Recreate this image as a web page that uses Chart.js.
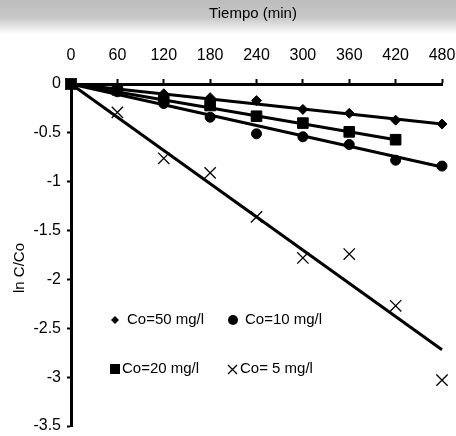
<!DOCTYPE html>
<html>
<head>
<meta charset="utf-8">
<script src="https://cdn.jsdelivr.net/npm/chart.js@4.4.1/dist/chart.umd.min.js"></script>
<style>
  html, body { margin: 0; padding: 0; }
  body { width: 456px; height: 436px; background: linear-gradient(to bottom, #bcbcbc 0px, #c8c8c8 18px, #e6e6e6 27px, #ffffff 34px); }
  #wrap { position: relative; width: 456px; height: 436px; }
</style>
</head>
<body>
<div id="wrap"><canvas id="c" width="456" height="436"></canvas></div>
<script>
// ---- data ----
const times = [0, 60, 120, 180, 240, 300, 360, 420, 480];
const xTicks = [0, 60, 120, 180, 240, 300, 360, 420, 480];
const yTicks = [0, -0.5, -1, -1.5, -2, -2.5, -3, -3.5];

const co50 = [0, -0.05, -0.10, -0.14, -0.17, -0.26, -0.30, -0.37, -0.41];
const co20 = [0, -0.06, -0.15, -0.22, -0.33, -0.40, -0.49, -0.57];
const co10 = [0, -0.08, -0.20, -0.34, -0.51, -0.54, -0.62, -0.78, -0.84];
const co5  = [0, -0.29, -0.76, -0.91, -1.36, -1.78, -1.74, -2.27, -3.03];

// fitted straight lines (start / end)
const fitTimes50 = [0, 480], fit50 = [0, -0.41];
const fitTimes20 = [0, 420], fit20 = [0, -0.57];
const fitTimes10 = [0, 480], fit10 = [0, -0.85];
const fitTimes5  = [0, 480], fit5  = [0, -2.72];

const labels = ['Co=50 mg/l', 'Co=10 mg/l', 'Co=20 mg/l', 'Co= 5 mg/l'];
const xTitle = 'Tiempo (min)';
const yTitle = 'ln C/Co';

const pts = (xs, ys) => ys.map((v, i) => ({ x: xs[i], y: v }));
const FONT = 'Arial, "Liberation Sans", sans-serif';

function lineDs(xs, ys) {
  return { type: 'line', data: pts(xs, ys), borderColor: '#000', borderWidth: 3,
           pointRadius: 0, fill: false, tension: 0, order: 2, clip: false };
}
function markDs(label, ys, style, r, bw) {
  return { type: 'scatter', label, data: pts(times, ys), pointStyle: style, pointRadius: r,
           pointHoverRadius: r, backgroundColor: '#000', borderColor: '#000',
           borderWidth: bw, showLine: false, order: 1, clip: false };
}

const legendPlugin = {
  id: 'customText',
  afterDraw(chart) {
    const ctx = chart.ctx;
    ctx.save();
    ctx.fillStyle = '#000';
    ctx.strokeStyle = '#000';
    ctx.font = '15px ' + FONT;
    ctx.textBaseline = 'middle';
    // x axis title
    ctx.textAlign = 'center';
    ctx.fillText(xTitle, 253, 14);
    // y axis title
    ctx.save();
    ctx.translate(20, 268);
    ctx.rotate(-Math.PI / 2);
    ctx.fillText(yTitle, 0, 0);
    ctx.restore();
    // legend
    ctx.textAlign = 'left';
    // diamond
    ctx.beginPath();
    ctx.moveTo(115, 316); ctx.lineTo(119, 320); ctx.lineTo(115, 324); ctx.lineTo(111, 320); ctx.closePath(); ctx.fill();
    ctx.fillText(labels[0], 127, 320);
    // circle
    ctx.beginPath(); ctx.arc(233, 320, 5, 0, Math.PI * 2); ctx.fill();
    ctx.fillText(labels[1], 245, 320);
    // square
    ctx.fillRect(110, 364, 10, 10);
    ctx.fillText(labels[2], 122, 369);
    // cross
    ctx.lineWidth = 1.3;
    ctx.beginPath();
    ctx.moveTo(228, 365); ctx.lineTo(237, 374); ctx.moveTo(237, 365); ctx.lineTo(228, 374); ctx.stroke();
    ctx.fillText(labels[3], 240, 369);
    ctx.restore();
  }
};

new Chart(document.getElementById('c'), {
  data: {
    datasets: [
      lineDs(fitTimes50, fit50),
      lineDs(fitTimes20, fit20),
      lineDs(fitTimes10, fit10),
      lineDs(fitTimes5, fit5),
      markDs(labels[0], co50, 'rectRot', 5, 1),
      markDs(labels[1], co10, 'circle', 5, 1),
      markDs(labels[2], co20, 'rect', 7.5, 1),
      markDs(labels[3], co5, 'crossRot', 8, 1.3)
    ]
  },
  options: {
    responsive: false,
    animation: false,
    layout: { padding: { left: 0, right: 14, top: 0, bottom: 10 } },
    plugins: { legend: { display: false }, tooltip: { enabled: false } },
    scales: {
      x: {
        type: 'linear', position: 'top', min: 0, max: 480,
        afterFit: s => { s.height = 84; s.paddingLeft = 0; s.paddingRight = 0; },
        afterBuildTicks: s => { s.ticks = xTicks.map(v => ({ value: v })); },
        ticks: { color: '#000', font: { family: FONT, size: 16 }, padding: 14 },
        grid: { drawOnChartArea: false, drawTicks: true, tickLength: 5, color: '#000', tickWidth: 2 },
        border: { display: true, color: '#000', width: 3 }
      },
      y: {
        type: 'linear', min: -3.5, max: 0,
        afterFit: s => { s.width = 71; s.paddingTop = 0; s.paddingBottom = 0; },
        afterBuildTicks: s => { s.ticks = yTicks.map(v => ({ value: v })); },
        ticks: { color: '#000', font: { family: FONT, size: 16 }, padding: 6,
                 callback: v => String(v) },
        grid: { drawOnChartArea: false, drawTicks: true, tickLength: 4, color: '#000', tickWidth: 2 },
        border: { display: true, color: '#000', width: 3 }
      }
    }
  },
  plugins: [legendPlugin]
});
</script>
</body>
</html>
